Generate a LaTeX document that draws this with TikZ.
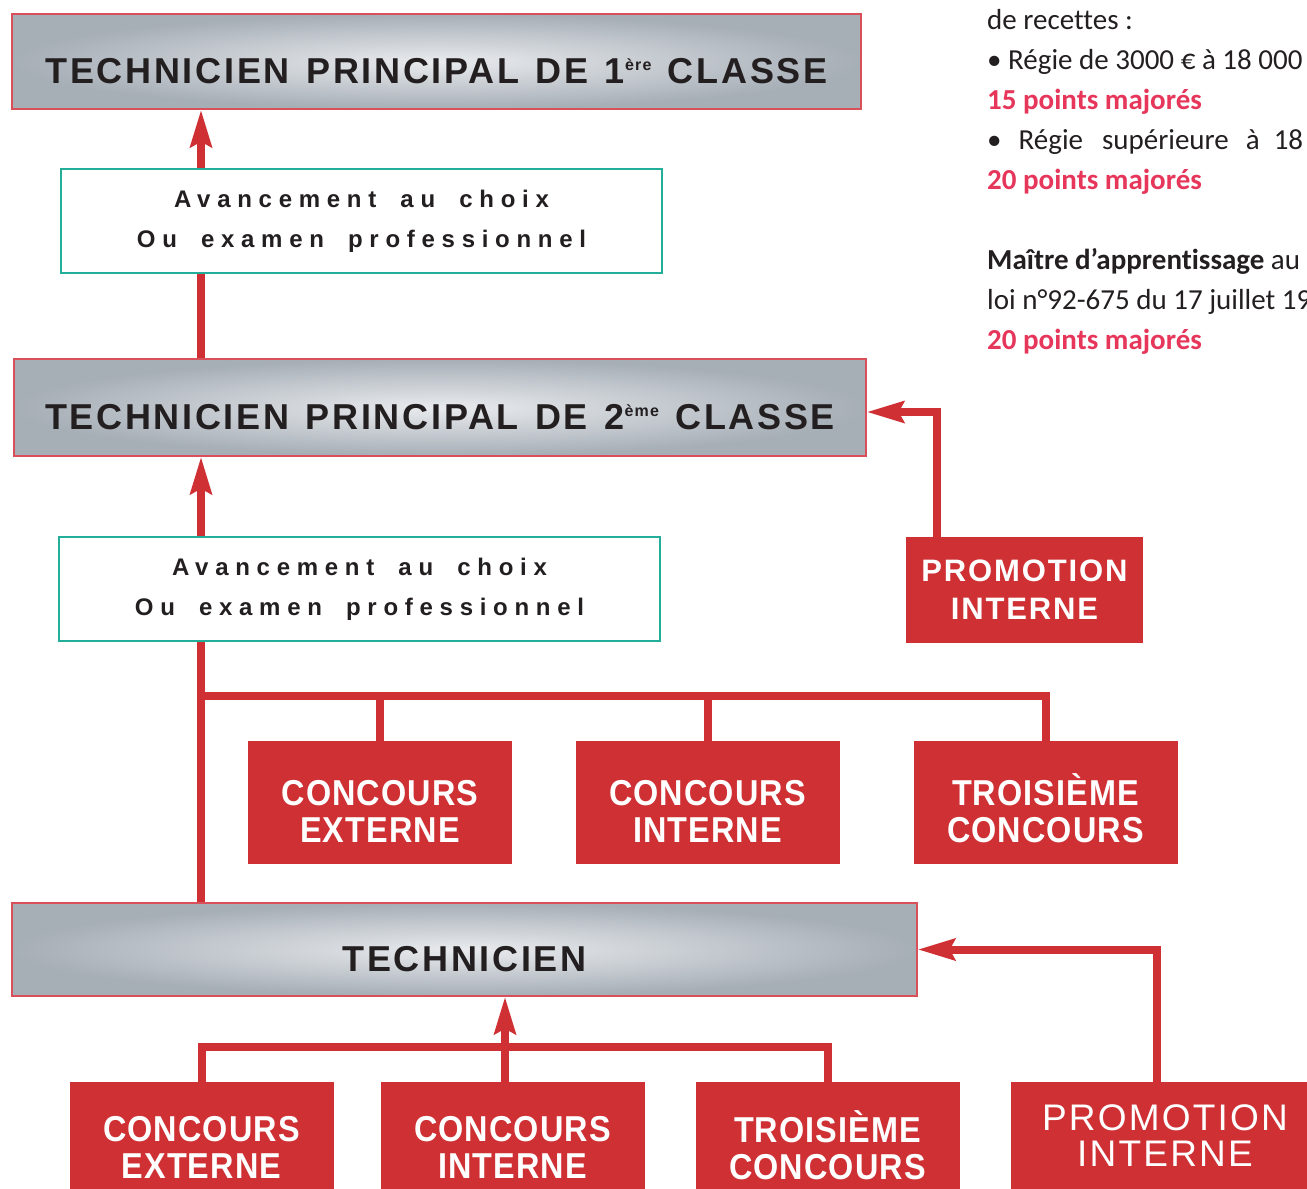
\documentclass[tikz,border=0pt]{standalone}
\usepackage{fontspec}
\setmainfont{Carlito}[Ligatures=NoCommon]
\newfontfamily\gradefont[LetterSpace=7.5,WordSpace=1.3]{Liberation Sans}
\newfontfamily\choixfont[LetterSpace=28,WordSpace=1.8]{Liberation Sans}
\newfontfamily\concfont[FakeStretch=0.9,LetterSpace=3]{Liberation Sans}
\newfontfamily\promofont[LetterSpace=6]{Liberation Sans}
\usetikzlibrary{positioning,calc,arrows.meta}

\definecolor{rouge}{HTML}{CF3034}
\definecolor{rose}{HTML}{E6375B}
\definecolor{vert}{HTML}{22AE98}
\definecolor{grisfonce}{HTML}{A6AEB6}
\definecolor{grisclair}{HTML}{E9EBEE}
\definecolor{bordgris}{HTML}{D9505A}
\definecolor{encre}{HTML}{231F20}

\newcommand{\expo}[1]{\raisebox{13pt}{\fontsize{16}{16}\selectfont #1}}

\begin{document}
\begin{tikzpicture}[x=1pt,y=-1pt]
	\clip (0,0) rectangle (1307,1189);
	\begin{scope}
		\tikzstyle{every node}=[align=center, inner sep=0pt]
		\tikzstyle{grade}=[draw=bordgris, line width=1.2pt, inner color=grisclair, outer color=grisfonce, text=encre, font=\gradefont\bfseries\fontsize{36}{36}\selectfont, text height=44pt, text depth=0pt]
		\tikzstyle{choix}=[draw=vert, line width=1.2pt, fill=white, text=encre, minimum width=601pt, minimum height=104pt, font=\choixfont\bfseries\fontsize{24}{40}\selectfont]
		\tikzstyle{conc}=[fill=rouge, minimum width=264pt]
		\tikzstyle{conctxt}=[text=white, align=center, font=\concfont\bfseries\fontsize{36}{37}\selectfont]
		\tikzstyle{promo}=[fill=rouge, text=white]
		\tikzstyle{trait}=[draw=rouge, line width=8pt]
		\tikzstyle{fleche}=[trait, -{Stealth[length=37pt, width=21pt, inset=5pt]}]
		\tikzstyle{note}=[anchor=base west, align=left, text=encre, font=\fontsize{29}{40}\selectfont]
		\tikzstyle{maj}=[note, text=rose, font=\bfseries\fontsize{29}{40}\selectfont]

		% grades
		\node[grade, minimum width=849pt, minimum height=95pt] (p1) at (436.5, 61.5) {TECHNICIEN PRINCIPAL DE 1\expo{ère} CLASSE};
		\node[grade, minimum width=852pt, minimum height=97pt] (p2) at (440, 407.5) {TECHNICIEN PRINCIPAL DE 2\expo{ème} CLASSE};
		\node[grade, minimum width=905pt, minimum height=93pt] (tech) at (464.5, 949.5) {TECHNICIEN};

		\node[choix] (c1) at (361.5, 221) {Avancement au choix\\Ou examen professionnel};
		\node[choix] (c2) at (359.5, 589) {Avancement au choix\\Ou examen professionnel};

		% acces au grade de technicien principal
		\node[promo, minimum width=237pt, minimum height=106pt, font=\promofont\bfseries\fontsize{31}{38}\selectfont] (promo1) at (1024.5, 590) {PROMOTION\\INTERNE};
		\node[conc, minimum height=123pt, label={[conctxt, yshift=-9pt]center:{CONCOURS\\EXTERNE}}] (ext1) at (380, 802.5) {};
		\node[conc, minimum height=123pt, label={[conctxt, yshift=-9pt]center:{CONCOURS\\INTERNE}}] (int1) at (707.5, 802.5) {};
		\node[conc, minimum height=123pt, label={[conctxt, yshift=-6pt]center:{TROISIÈME\\CONCOURS}}] (trois1) at (1045.5, 802.5) {};

		% acces au grade de technicien
		\node[conc, minimum height=107pt, label={[conctxt, yshift=-12pt]center:{CONCOURS\\EXTERNE}}] (ext2) at (201.5, 1135.5) {};
		\node[conc, minimum height=107pt, label={[conctxt, yshift=-12pt]center:{CONCOURS\\INTERNE}}] (int2) at (512.5, 1135.5) {};
		\node[conc, minimum height=107pt, label={[conctxt, yshift=-9.5pt]center:{TROISIÈME\\CONCOURS}}] (trois2) at (827.5, 1135.5) {};
		\node[promo, minimum width=308pt, minimum height=107pt, font=\promofont\fontsize{37}{36}\selectfont] (promo2) at (1165, 1135.5) {PROMOTION\\INTERNE};

		\coordinate (spine) at (201, 0);
		\coordinate (barA) at (201, 696);
		\coordinate (barB) at (202, 1047);

		\draw[trait] (spine |- p2.north) -- (spine |- c1.south);
		\draw[fleche] (spine |- c1.north) -- (spine |- p1.south);
		\draw[trait] (spine |- tech.north) -- (spine |- c2.south);
		\draw[fleche] (spine |- c2.north) -- (spine |- p2.south);

		\draw[trait] (barA) -| (trois1.north);
		\draw[trait] (ext1.north) -- (ext1.north |- barA);
		\draw[trait] (int1.north) -- (int1.north |- barA);
		\draw[fleche] ([xshift=-87.5pt]promo1.north) |- ([yshift=-4.5pt]p2.east);

		\draw[trait] (ext2.north) -- (ext2.north |- barB) -| (trois2.north);
		\draw[fleche] ([xshift=-7.5pt]int2.north) -- ([xshift=-7.5pt]int2.north |- tech.south);
		\draw[fleche] ([xshift=-8pt]promo2.north) |- (tech.east);

		% texte a droite
		\node[note] (n1) at (987, 29) {de recettes :};
		\node[note] (n2) at (987, 69) {• Régie de 3000 € à 18 000};
		\node[maj] (n3) at (987, 109) {15 points majorés};
		\node[note] (n4) at (987, 149) {•\hspace{17pt}Régie\hspace{19pt}supérieure\hspace{17pt}à\hspace{14pt}18};
		\node[maj] (n5) at (987, 189) {20 points majorés};
		\node[note] (n6) at (987, 269) {\textbf{Maître d’apprentissage} au};
		\node[note] (n7) at (987, 309) {loi n°92-675 du 17 juillet 19};
		\node[maj] (n8) at (987, 349) {20 points majorés};
	\end{scope}
\end{tikzpicture}
\end{document}
